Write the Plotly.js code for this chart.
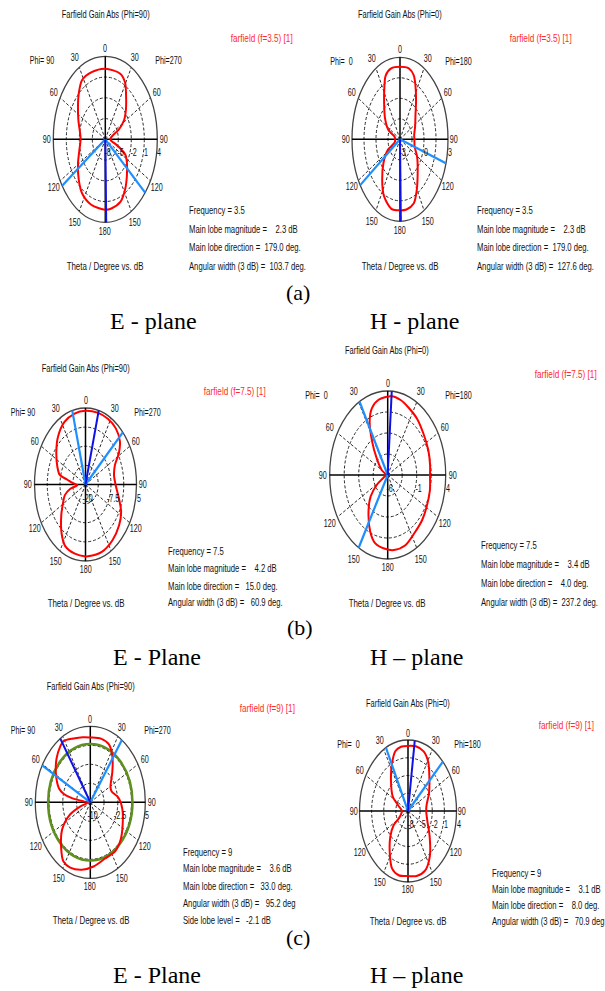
<!DOCTYPE html>
<html><head><meta charset="utf-8">
<script src="https://cdn.plot.ly/plotly-3.0.1.min.js"></script>
<style>html,body{margin:0;padding:0;background:#fff}</style>
</head><body><div id="chart" style="width:605px;height:991px"></div>
<script>
// ---------- data (theta in degrees clockwise from 0 at top; negative = left half) ----------
const thetaE35 = [-180,-161,-146,-134,-119,-105,-90,-81,-66,-53,-42,-32,-18,0,20,29,38,48,57,66,72,80,90,100,106,111,116,125,137,148,159,172];
const gainE35  = [2.2,2.0,1.5,0.5,-0.8,-1.8,-2.3,-2.1,-1.2,-0.1,1.1,2.1,2.2,2.2,2.1,1.4,-0.2,-1.6,-2.8,-4.6,-6.2,-6.7,-6.8,-6.6,-5.6,-4.2,-2.8,-1.9,-0.7,0.6,1.7,2.1];
const thetaH35 = [-180,-168,-154,-143,-130,-117,-109,-90,-75,-65,-51,-37,-27,-21,-12,0,12,20,26,35,48,64,80,90,106,121,138,151,160,171];
const gainH35  = [2.2,2.2,1.6,0.7,-0.3,-1.3,-2.3,-2.4,-2.3,-1.4,-0.6,0.3,1.3,2.0,2.3,2.3,2.3,2.0,1.4,0.5,-0.4,-0.9,-1.2,-1.2,-1.1,-0.5,0.3,1.3,2.0,2.2];
const thetaE75 = [-180,-167,-154,-144,-130,-119,-109,-101,-93,-86,-80,-76,-67,-53,-41,-27,-13,0,14,27,39,50,58,66,78,91,106,117,129,144,160,177];
const gainE75  = [3.5,3.2,2.5,-0.1,-4.5,-7.4,-9.3,-12.3,-16.0,-13.8,-11.0,-7.0,-5.0,-2.1,0.6,2.9,3.8,4.1,4.2,4.1,3.6,2.0,-0.7,-4.2,-5.7,-5.2,-2.9,-0.4,1.2,2.5,3.4,3.5];
const thetaH75 = [-177,-165,-156,-143,-131,-122,-113,-90,-60,-44,-34,-26,-19,-10,4,14,24,37,51,67,81,90,104,119,132,146,160,173];
const gainH75  = [2.8,2.4,1.4,-0.5,-2.1,-3.8,-5.2,-5.7,-4.8,-3.3,-1.2,1.1,2.4,3.1,3.4,3.2,2.8,2.4,1.9,1.6,1.4,1.3,1.5,1.7,2.0,2.3,2.9,3.0];
const thetaE9  = [-170,-157,-148,-139,-125,-114,-107,-100,-90,-84,-81,-77,-72,-60,-47,-37,-31,-20,-9,0,13,24,34,45,61,70,83,98,117,132,145,160,176];
const gainE9   = [3.5,4.0,3.8,2.1,-0.6,-3.8,-7.1,-9.2,-9.4,-8.2,-5.1,-2.5,-1.0,0.8,2.6,3.7,4.1,3.4,3.0,2.8,2.9,2.5,0.8,-1.5,-3.7,-3.8,-2.3,-1.2,-0.1,1.1,1.8,1.8,2.7];
const thetaH9  = [-168,-158,-148,-135,-124,-117,-90,-70,-57,-39,-26,-17,-9,0,10,21,31,42,60,78,90,108,129,145,157,169,180];
const gainH9   = [3.1,2.5,0.5,-1.8,-3.7,-5.6,-6.5,-5.5,-3.5,-1.3,1.0,2.6,3.0,3.0,3.1,2.8,1.7,-0.1,-2.0,-3.3,-3.5,-3.0,-1.1,1.4,2.9,3.2,3.0];

const radialMin = [-8,-3,-20,-6,-10,-8];
const radialMax = [4,3,5,4,5,4];
const radialTicks = [[-8,-5,-2,1,4],[-3,0,3],[-20,-7.5,5],[-6,-1,4],[-10,-2.5,5],[-8,-5,-2,1,4]];
const angleTicks = [0,30,60,90,120,150,180];
const phiLeft  = ['Phi= 90','Phi=  0','Phi= 90','Phi=  0','Phi= 90','Phi=  0'];
const phiRight = ['Phi=270','Phi=180','Phi=270','Phi=180','Phi=270','Phi=180'];
const titles = ['Farfield Gain Abs (Phi=90)','Farfield Gain Abs (Phi=0)','Farfield Gain Abs (Phi=90)','Farfield Gain Abs (Phi=0)','Farfield Gain Abs (Phi=90)','Farfield Gain Abs (Phi=0)'];
const freqLabels = ['3.5','3.5','7.5','7.5','9','9'];
const mainMag = [2.3,2.3,4.2,3.4,3.6,3.1];
const mainDirText = [179.0,179.0,15.0,4.0,33.0,8.0];
const angWidth = [103.7,127.6,60.9,237.2,95.2,70.9];
const sideLobe = [null,null,null,null,-2.1,null];
const mainDirDrawn = [179,179,15,4,-33,8];
const beamEdgeA = [130,107,-15,-29,-61,-27];
const beamEdgeB = [-124,-124,47,-150,35,46];
const captions = ['(a)','(b)','(c)'];
const planeLabels = [['E - plane','H - plane'],['E - Plane','H \u2013 plane'],['E - Plane','H \u2013 plane']];

const series = [[thetaE35,gainE35],[thetaH35,gainH35],[thetaE75,gainE75],[thetaH75,gainH75],[thetaE9,gainE9],[thetaH9,gainH9]];

// ---------- layout geometry (pixels) ----------
const W=605, H=991, R=1.6;
const geom = [[105.3,139.3,52,83],[400,139.3,48,82],[85.5,484.5,51,76.5],[387.7,475,58,84],[90.3,802.3,55,76],[408,811,48.5,71]];
const titlePos = [[105,14],[400,14],[85,368],[387,350],[90,686],[408,703]];
const legendPos = [[294,38],[573,38],[267,391],[598,374],[296,708],[595,725]];
const thetaLabPos = [[105,266],[400,266],[86,603],[387,603],[91,920],[408,921]];
const infoX = [188,476,167,480,182,491];
const infoY = [[210,229,247,266],[210,229,247,266],[551,568,586,602],[545,564,583,602],[852,868,886,903,920],[873,889,905,921]];
const capPos = [[298,292],[300,627],[298,937]];
const planePos = [[[154,321],[414,321]],[[157,657],[417,657]],[[157,975],[417,975]]];
// the reference text is condensed: width (px) of the first text of each class in the reference
const classWidth = {ang:26.5, title:88, legend:62, theta:77, info:109};

const FONT = 'Liberation Sans, Arial, sans-serif';
const SERIF = 'Liberation Serif, Times New Roman, serif';
const INK = '#111';
const NB = '\u00a0';
const annClass = [], classRep = {};
function txt(t, px, py, o, cls) {
  annClass.push(cls || 'none');
  return Object.assign({xref:'paper', yref:'paper', x:px/W, y:1-py/H, text:t, showarrow:false,
    xanchor:'center', yanchor:'middle', align:'center', borderpad:0, font:{family:FONT, size:10.5, color:INK}}, o||{});
}
function pad(s, n){ s = String(s); while (s.length < n) s = NB + s; return s; }
const rad = d => d*Math.PI/180;

const data = [], shapes = [], annotations = [], layout = {};
series.forEach((s, i) => {
  const k = i+1, xa = 'x'+(k===1?'':k), ya = 'y'+(k===1?'':k);
  const [cx, cy, a, b] = geom[i];
  layout['xaxis'+(k===1?'':k)] = {domain:[(cx-R*a)/W,(cx+R*a)/W], range:[-R,R], visible:false, fixedrange:true, anchor:ya};
  layout['yaxis'+(k===1?'':k)] = {domain:[1-(cy+R*b)/H,1-(cy-R*b)/H], range:[-R,R], visible:false, fixedrange:true, anchor:xa};
  const span = radialMax[i]-radialMin[i];
  const rho = g => (g-radialMin[i])/span;
  [0.25,0.5,0.75].forEach(r => shapes.push({type:'circle', xref:xa, yref:ya, x0:-r, x1:r, y0:-r, y1:r, layer:'below', line:{color:'#2a2a2a', width:1, dash:'3px,2px'}}));
  [30,60,120,150,-30,-60,-120,-150].forEach(t => shapes.push({type:'line', xref:xa, yref:ya, x0:0, y0:0, x1:Math.sin(rad(t)), y1:Math.cos(rad(t)), layer:'below', line:{color:'#2a2a2a', width:1, dash:'3px,2px'}}));
  shapes.push({type:'circle', xref:xa, yref:ya, x0:-1, x1:1, y0:-1, y1:1, layer:'below', line:{color:'#444', width:1.3}});
  shapes.push({type:'line', xref:xa, yref:ya, x0:-1, x1:1, y0:0, y1:0, layer:'below', line:{color:'#000', width:1.5}});
  shapes.push({type:'line', xref:xa, yref:ya, x0:0, x1:0, y0:-1, y1:1, layer:'below', line:{color:'#000', width:1.5}});
  if (sideLobe[i] !== null) {
    const r = rho(mainMag[i] + sideLobe[i]);
    shapes.push({type:'circle', xref:xa, yref:ya, x0:-r, x1:r, y0:-r, y1:r, layer:'below', line:{color:'#5f8f1f', width:2.5}});
  }
  const th = s[0].concat([s[0][0]]), g = s[1].concat([s[1][0]]);
  data.push({type:'scatter', mode:'lines', xaxis:xa, yaxis:ya, hoverinfo:'skip',
    x: th.map((t,j) => rho(g[j])*Math.sin(rad(t))), y: th.map((t,j) => rho(g[j])*Math.cos(rad(t))),
    line:{color:'#ff0000', width:2, shape:'spline', smoothing:0.8}});
  [beamEdgeA[i], beamEdgeB[i]].forEach(t => data.push({type:'scatter', mode:'lines', xaxis:xa, yaxis:ya, hoverinfo:'skip',
    x:[0, Math.sin(rad(t))], y:[0, Math.cos(rad(t))], line:{color:'#1e8fff', width:2.2}}));
  data.push({type:'scatter', mode:'lines', xaxis:xa, yaxis:ya, hoverinfo:'skip',
    x:[0, Math.sin(rad(mainDirDrawn[i]))], y:[0, Math.cos(rad(mainDirDrawn[i]))], line:{color:'#1010e8', width:2}});
  angleTicks.forEach(v => {
    const f = (v===0||v===180) ? 1.1 : (v===90 ? 1.12 : 1.15);
    const sides = (v===0||v===180) ? [v] : [v,-v];
    sides.forEach(t => annotations.push(txt(String(v), cx + f*a*Math.sin(rad(t)), cy - f*b*Math.cos(rad(t)), null, 'ang')));
  });
  annotations.push(txt(phiLeft[i].replace(/ /g,NB), cx - 1.22*a, cy - 0.95*b, null, 'ang'));
  if (i === 0) classRep.ang = annotations.length;
  annotations.push(txt(phiRight[i], cx + 1.22*a, cy - 0.95*b, null, 'ang'));
  radialTicks[i].forEach(v => annotations.push(txt(String(v), cx + rho(v)*a + 2, cy + 13, null, 'ang')));
  if (i === 0) classRep.title = annotations.length;
  annotations.push(txt(titles[i], titlePos[i][0], titlePos[i][1], null, 'title'));
  if (i === 0) classRep.legend = annotations.length;
  annotations.push(txt('farfield (f=' + freqLabels[i] + ') [1]', legendPos[i][0], legendPos[i][1], {xanchor:'right', align:'right', font:{family:FONT,size:10.5,color:'#ff2a2a'}}, 'legend'));
  if (i === 0) classRep.theta = annotations.length;
  annotations.push(txt('Theta / Degree vs. dB', thetaLabPos[i][0], thetaLabPos[i][1], null, 'theta'));
  const lines = [
    'Frequency = ' + freqLabels[i],
    'Main lobe magnitude = ' + pad(mainMag[i].toFixed(1), 6) + ' dB',
    'Main lobe direction = ' + pad(mainDirText[i].toFixed(1), 6) + ' deg.',
    'Angular width (3 dB) = ' + pad(angWidth[i].toFixed(1), 6) + (i>=4 ? ' deg' : ' deg.')
  ];
  if (sideLobe[i] !== null) lines.push('Side lobe level = ' + pad(sideLobe[i].toFixed(1), 6) + ' dB');
  lines.forEach((l, j) => {
    if (i === 0 && j === 1) classRep.info = annotations.length;
    annotations.push(txt(l, infoX[i], infoY[i][j], {xanchor:'left', align:'left'}, 'info'));
  });
});
captions.forEach((c, r) => {
  annotations.push(txt(c, capPos[r][0], capPos[r][1], {font:{family:SERIF, size:22, color:'#000'}}));
  planeLabels[r].forEach((p, j) => annotations.push(txt(p, planePos[r][j][0], planePos[r][j][1], {font:{family:SERIF, size:24, color:'#000'}})));
});

Object.assign(layout, {width:W, height:H, margin:{l:0,r:0,t:0,b:0}, paper_bgcolor:'#fff', plot_bgcolor:'rgba(0,0,0,0)',
  showlegend:false, shapes:shapes, annotations:annotations});
Plotly.newPlot('chart', data, layout, {staticPlot:true, displayModeBar:false}).then(gd => {
  const groups = {};
  gd.querySelectorAll('g.annotation').forEach(g => { groups[+g.getAttribute('data-index')] = g; });
  const textOf = idx => groups[idx] && groups[idx].querySelector('text.annotation-text');
  Object.values(groups).forEach(g => { const t = g.querySelector('text.annotation-text'); if (t) t.style.whiteSpace = 'pre'; });
  const factor = {};
  Object.keys(classRep).forEach(c => { const t = textOf(classRep[c]); if (t) factor[c] = classWidth[c] / t.getComputedTextLength(); });
  Object.keys(groups).forEach(key => {
    const idx = +key, k = factor[annClass[idx]], t = textOf(idx);
    if (!t || !k) return;
    const w = t.getComputedTextLength(), d = w - w*k;
    const ax = parseFloat(t.getAttribute('x')) || 0;
    const old = t.getAttribute('transform') || '';
    t.setAttribute('transform', old + ' translate(' + ax + ',0) scale(' + k.toFixed(4) + ',1) translate(' + (-ax) + ',0)');
    const r = groups[idx].querySelector('rect.bg');
    if (r) {
      const al = annotations[idx].align;
      const dx = al === 'left' ? 0 : (al === 'right' ? d : d/2);
      r.setAttribute('x', (+r.getAttribute('x') + dx).toFixed(2));
      r.setAttribute('width', Math.max(1, +r.getAttribute('width') - d).toFixed(2));
    }
  });
});
</script></body></html>
